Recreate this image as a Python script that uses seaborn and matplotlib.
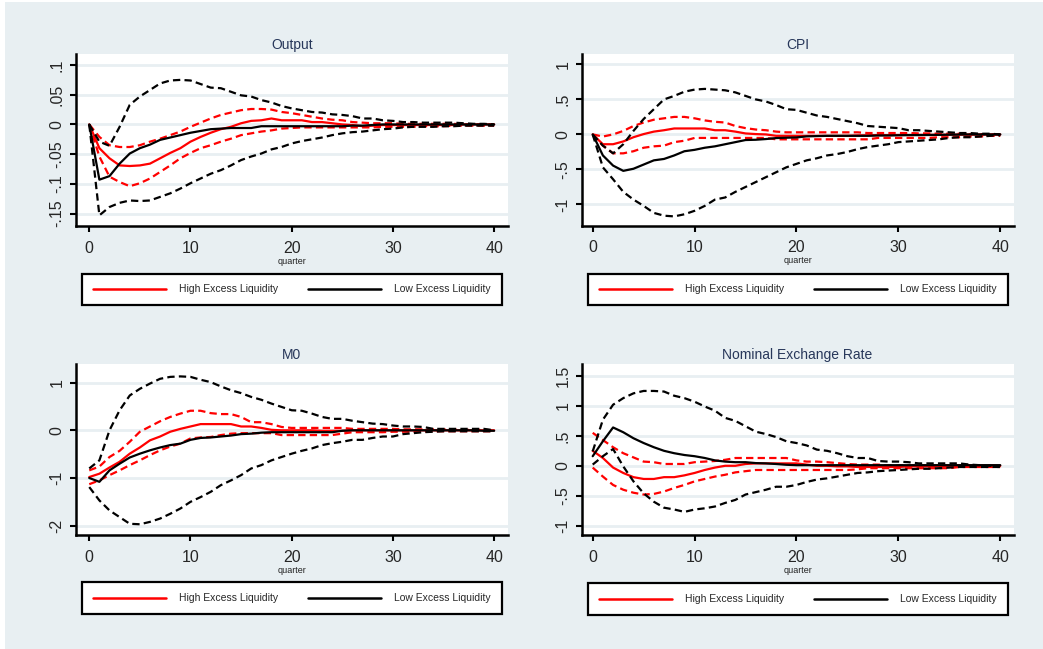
import numpy as np
import pandas as pd
import matplotlib
matplotlib.use("Agg")
import matplotlib.pyplot as plt
import seaborn as sns
from matplotlib.lines import Line2D
from matplotlib.patches import Rectangle

# ---------------- data ----------------
quarters = list(range(41))

# Output
o_high = [0, -0.040, -0.057, -0.069, -0.070, -0.069, -0.066, -0.057, -0.048, -0.040,
          -0.029, -0.021, -0.014, -0.008, -0.004, 0.002, 0.006, 0.007, 0.010, 0.007,
          0.007, 0.007, 0.004, 0.004, 0.002, 0.000, -0.001, -0.003, -0.002, -0.001,
          -0.001, -0.001, -0.001, -0.001, -0.001, -0.001, -0.001, 0.000, 0.000, 0.000, 0.000]
o_high_up = [0, -0.021, -0.035, -0.038, -0.038, -0.035, -0.029, -0.024, -0.018, -0.012,
             -0.004, 0.003, 0.010, 0.016, 0.020, 0.024, 0.026, 0.026, 0.025, 0.021,
             0.019, 0.016, 0.013, 0.010, 0.008, 0.007, 0.004, 0.003, 0.002, 0.002,
             0.002, 0.001, 0.001, 0.001, 0.001, 0.001, 0.001, 0.000, 0.000, 0.000, 0.000]
o_high_lo = [0, -0.054, -0.088, -0.097, -0.104, -0.099, -0.091, -0.080, -0.069, -0.057,
             -0.048, -0.040, -0.035, -0.029, -0.024, -0.018, -0.015, -0.012, -0.010, -0.007,
             -0.006, -0.005, -0.005, -0.005, -0.005, -0.005, -0.005, -0.005, -0.005, -0.004,
             -0.004, -0.004, -0.004, -0.003, -0.003, -0.003, -0.002, -0.002, -0.002, -0.002, -0.002]
o_low = [0, -0.093, -0.087, -0.066, -0.049, -0.040, -0.034, -0.026, -0.022, -0.018,
         -0.014, -0.011, -0.008, -0.007, -0.006, -0.006, -0.006, -0.003, -0.003, -0.003,
         -0.003, -0.003, -0.003, -0.003, -0.003, -0.003, -0.002, -0.002, -0.001, 0.000,
         0.000, 0.000, 0.000, 0.000, 0.000, 0.000, 0.000, 0.000, 0.000, 0.000, 0.000]
o_low_up = [0, -0.029, -0.036, -0.004, 0.033, 0.047, 0.058, 0.069, 0.074, 0.075,
            0.074, 0.068, 0.062, 0.061, 0.055, 0.049, 0.047, 0.041, 0.037, 0.031,
            0.027, 0.024, 0.021, 0.020, 0.017, 0.016, 0.014, 0.010, 0.010, 0.007,
            0.006, 0.004, 0.004, 0.003, 0.003, 0.003, 0.003, 0.002, 0.001, 0.001, 0.000]
o_low_lo = [0, -0.153, -0.139, -0.132, -0.128, -0.129, -0.128, -0.122, -0.116, -0.108,
            -0.099, -0.091, -0.083, -0.077, -0.069, -0.060, -0.054, -0.049, -0.042, -0.038,
            -0.032, -0.028, -0.025, -0.022, -0.018, -0.015, -0.013, -0.012, -0.010, -0.008,
            -0.007, -0.005, -0.004, -0.004, -0.004, -0.003, -0.003, -0.002, -0.002, -0.002, -0.002]

# CPI
c_high = [0, -0.14, -0.14, -0.10, -0.04, 0.005, 0.04, 0.06, 0.085, 0.085,
          0.085, 0.085, 0.06, 0.06, 0.04, 0.014, 0.005, 0.0, -0.02, -0.02,
          -0.02, -0.02, -0.02, -0.02, -0.02, -0.02, -0.014, -0.012, -0.01, -0.01,
          -0.008, -0.008, -0.006, -0.006, -0.005, -0.004, -0.003, -0.002, -0.001, 0.0, 0.0]
c_high_up = [0, -0.03, 0.0, 0.05, 0.12, 0.17, 0.21, 0.23, 0.25, 0.25,
             0.23, 0.20, 0.18, 0.17, 0.12, 0.09, 0.07, 0.06, 0.04, 0.03,
             0.03, 0.03, 0.03, 0.03, 0.03, 0.03, 0.03, 0.02, 0.02, 0.02,
             0.02, 0.02, 0.015, 0.015, 0.01, 0.01, 0.01, 0.005, 0.005, 0.0, 0.0]
c_high_lo = [0, -0.16, -0.27, -0.27, -0.24, -0.19, -0.17, -0.16, -0.11, -0.09,
             -0.05, -0.05, -0.05, -0.05, -0.05, -0.05, -0.05, -0.05, -0.07, -0.07,
             -0.07, -0.07, -0.07, -0.07, -0.07, -0.07, -0.07, -0.07, -0.05, -0.05,
             -0.05, -0.05, -0.05, -0.05, -0.04, -0.04, -0.04, -0.03, -0.03, -0.02, -0.02]
c_low = [0, -0.30, -0.445, -0.52, -0.49, -0.43, -0.37, -0.35, -0.30, -0.24,
         -0.22, -0.19, -0.17, -0.14, -0.11, -0.08, -0.076, -0.066, -0.052, -0.047,
         -0.043, -0.028, -0.024, -0.02, -0.02, -0.02, -0.02, -0.02, -0.015, -0.015,
         -0.012, -0.01, -0.01, -0.008, -0.006, -0.004, -0.002, 0.0, 0.0, 0.0, 0.0]
c_low_up = [0, -0.16, -0.27, -0.14, 0.05, 0.22, 0.36, 0.50, 0.55, 0.61,
            0.64, 0.65, 0.64, 0.63, 0.60, 0.55, 0.50, 0.47, 0.42, 0.36,
            0.35, 0.31, 0.27, 0.25, 0.22, 0.19, 0.16, 0.12, 0.11, 0.10,
            0.09, 0.06, 0.06, 0.05, 0.04, 0.03, 0.02, 0.02, 0.01, 0.01, 0.0]
c_low_lo = [0, -0.47, -0.64, -0.82, -0.93, -1.02, -1.12, -1.16, -1.17, -1.14,
            -1.09, -1.02, -0.93, -0.90, -0.82, -0.75, -0.68, -0.61, -0.54, -0.47,
            -0.42, -0.37, -0.34, -0.30, -0.28, -0.25, -0.21, -0.18, -0.16, -0.14,
            -0.11, -0.10, -0.09, -0.08, -0.07, -0.05, -0.04, -0.04, -0.03, -0.02, -0.01]

# M0
m_high = [-0.98, -0.91, -0.78, -0.66, -0.49, -0.36, -0.21, -0.13, -0.03, 0.03,
          0.08, 0.13, 0.13, 0.13, 0.13, 0.08, 0.08, 0.05, 0.01, 0.0,
          0.0, 0.0, 0.0, -0.01, -0.01, -0.01, 0.0, 0.0, 0.0, 0.0,
          0.0, 0.0, 0.0, 0.0, 0.0, 0.0, 0.0, 0.0, 0.0, 0.0, 0.0]
m_high_up = [-0.84, -0.76, -0.56, -0.43, -0.24, -0.03, 0.08, 0.19, 0.28, 0.35,
             0.41, 0.41, 0.36, 0.34, 0.34, 0.28, 0.17, 0.17, 0.13, 0.07,
             0.05, 0.05, 0.05, 0.05, 0.05, 0.05, 0.03, 0.03, 0.03, 0.03,
             0.03, 0.02, 0.02, 0.02, 0.02, 0.02, 0.01, 0.01, 0.01, 0.01, 0.0]
m_high_lo = [-1.13, -1.05, -0.94, -0.84, -0.73, -0.63, -0.52, -0.42, -0.34, -0.28,
             -0.17, -0.15, -0.14, -0.10, -0.07, -0.06, -0.06, -0.06, -0.06, -0.10,
             -0.10, -0.10, -0.10, -0.10, -0.10, -0.07, -0.04, -0.04, -0.04, -0.04,
             -0.03, -0.03, -0.03, -0.03, -0.02, -0.02, -0.02, -0.02, -0.02, -0.02, -0.02]
m_low = [-1.0, -1.08, -0.84, -0.70, -0.57, -0.49, -0.42, -0.36, -0.31, -0.28,
         -0.20, -0.16, -0.15, -0.13, -0.11, -0.08, -0.07, -0.05, -0.04, -0.04,
         -0.04, -0.04, -0.04, -0.04, -0.04, -0.01, 0.0, 0.0, 0.0, 0.0,
         0.0, 0.0, 0.0, 0.0, 0.0, 0.0, 0.0, 0.0, 0.0, -0.01, -0.01]
m_low_up = [-0.80, -0.63, 0.0, 0.42, 0.73, 0.87, 0.98, 1.08, 1.12, 1.13,
            1.12, 1.06, 1.01, 0.92, 0.84, 0.78, 0.70, 0.64, 0.56, 0.49,
            0.42, 0.41, 0.35, 0.28, 0.24, 0.24, 0.20, 0.17, 0.14, 0.13,
            0.10, 0.08, 0.08, 0.07, 0.03, 0.03, 0.03, 0.03, 0.03, 0.03, 0.0]
m_low_lo = [-1.19, -1.47, -1.68, -1.82, -1.96, -1.97, -1.92, -1.85, -1.75, -1.64,
            -1.50, -1.40, -1.29, -1.15, -1.05, -0.94, -0.80, -0.73, -0.63, -0.56,
            -0.49, -0.43, -0.38, -0.31, -0.27, -0.24, -0.20, -0.20, -0.16, -0.13,
            -0.13, -0.08, -0.06, -0.04, -0.03, -0.02, -0.02, -0.02, -0.02, -0.02, -0.02]

# Nominal Exchange Rate
n_high = [0.25, 0.13, -0.03, -0.12, -0.19, -0.22, -0.22, -0.19, -0.19, -0.16,
          -0.12, -0.07, -0.03, 0.0, 0.0, 0.03, 0.04, 0.04, 0.04, 0.04,
          0.04, 0.02, 0.0, 0.0, -0.01, -0.01, -0.02, -0.02, -0.02, -0.02,
          -0.02, -0.01, -0.01, -0.01, -0.01, 0.0, 0.0, 0.0, 0.0, 0.0, 0.0]
n_high_up = [0.55, 0.43, 0.31, 0.21, 0.14, 0.07, 0.06, 0.03, 0.03, 0.03,
             0.06, 0.07, 0.08, 0.10, 0.13, 0.13, 0.13, 0.13, 0.13, 0.13,
             0.09, 0.07, 0.07, 0.06, 0.045, 0.03, 0.02, 0.02, 0.02, 0.005,
             0.005, 0.005, 0.005, 0.005, 0.005, 0.005, 0.005, 0.005, 0.005, 0.005, 0.005]
n_high_lo = [-0.03, -0.18, -0.32, -0.40, -0.45, -0.48, -0.47, -0.43, -0.37, -0.32,
             -0.26, -0.22, -0.18, -0.15, -0.11, -0.09, -0.07, -0.07, -0.07, -0.07,
             -0.07, -0.07, -0.07, -0.07, -0.07, -0.07, -0.06, -0.04, -0.04, -0.04,
             -0.04, -0.04, -0.04, -0.04, -0.04, -0.04, -0.02, -0.02, -0.02, -0.02, -0.02]
n_low = [0.16, 0.41, 0.64, 0.56, 0.46, 0.38, 0.31, 0.25, 0.21, 0.18,
         0.16, 0.13, 0.09, 0.07, 0.06, 0.06, 0.045, 0.04, 0.03, 0.017,
         0.01, 0.01, 0.01, 0.01, 0.01, 0.01, 0.01, 0.01, 0.01, 0.01,
         0.01, 0.01, 0.01, 0.01, 0.01, 0.01, 0.01, 0.01, 0.01, 0.01, 0.01]
n_low_up = [0.24, 0.77, 1.02, 1.13, 1.21, 1.25, 1.25, 1.24, 1.17, 1.13,
            1.07, 0.99, 0.92, 0.80, 0.75, 0.66, 0.57, 0.53, 0.48, 0.41,
            0.38, 0.34, 0.27, 0.25, 0.21, 0.16, 0.13, 0.13, 0.08, 0.07,
            0.07, 0.06, 0.04, 0.04, 0.04, 0.04, 0.04, 0.02, 0.01, 0.0, 0.0]
n_low_lo = [0.02, 0.16, 0.28, -0.01, -0.26, -0.46, -0.60, -0.70, -0.73, -0.77,
            -0.73, -0.71, -0.68, -0.62, -0.57, -0.48, -0.44, -0.40, -0.35, -0.35,
            -0.32, -0.27, -0.23, -0.21, -0.18, -0.15, -0.12, -0.11, -0.09, -0.08,
            -0.07, -0.06, -0.05, -0.05, -0.04, -0.03, -0.02, -0.02, -0.02, -0.02, -0.02]

panel_titles = ["Output", "CPI", "M0", "Nominal Exchange Rate"]
legend_labels = ["High Excess Liquidity", "Low Excess Liquidity"]
x_ticks = [0, 10, 20, 30, 40]
y_ticks = [[-0.15, -0.1, -0.05, 0, 0.05, 0.1], [-1, -0.5, 0, 0.5, 1],
           [-2, -1, 0, 1], [-1, -0.5, 0, 0.5, 1, 1.5]]
y_tick_labels = [["-.15", "-.1", "-.05", "0", ".05", ".1"], ["-1", "-.5", "0", ".5", "1"],
                 ["-2", "-1", "0", "1"], ["-1", "-.5", "0", ".5", "1", "1.5"]]

# ---------------- style ----------------
sns.set_style("white")
plt.rcParams["font.family"] = ["Liberation Sans", "DejaVu Sans"]

W, H = 1043, 649
BG = "#e8eff2"
RED, BLACK = "#ff0000", "#000000"
TITLE_C = "#27375a"

fig = plt.figure(figsize=(W / 100, H / 100), dpi=100)
fig.patch.set_facecolor("white")
fig.patches.append(Rectangle((5 / W, 0), 1, 1 - 2 / H, transform=fig.transFigure,
                             facecolor=BG, edgecolor="none", zorder=-10))


def fbox(l, t, r, b):
    return [l / W, 1 - b / H, (r - l) / W, (b - t) / H]


axes_px = [(75.7, 54, 508, 226), (581.7, 54, 1013.5, 225.5),
           (75.7, 364, 508, 535), (581.7, 364, 1013.5, 535)]
xlims = [(-1.34, 41.37), (-1.08, 41.3), (-1.34, 41.37), (-1.08, 41.3)]
ylims = [(-0.171, 0.1186), (-1.30, 1.148), (-2.195, 1.39), (-1.156, 1.70)]
legend_px = [(81.7, 272.3, 502, 306.7), (587.7, 272.3, 1008, 306.7),
             (81.7, 581, 502, 615.5), (587.7, 582, 1008, 616.7)]

series = [
    (o_high, o_high_up, o_high_lo, o_low, o_low_up, o_low_lo),
    (c_high, c_high_up, c_high_lo, c_low, c_low_up, c_low_lo),
    (m_high, m_high_up, m_high_lo, m_low, m_low_up, m_low_lo),
    (n_high, n_high_up, n_high_lo, n_low, n_low_up, n_low_lo),
]


def long_frame(hi, hi_up, hi_lo, lo, lo_up, lo_lo):
    parts = []
    for grp, band, vals in [("High", "Median", hi), ("High", "Upper", hi_up), ("High", "Lower", hi_lo),
                            ("Low", "Median", lo), ("Low", "Upper", lo_up), ("Low", "Lower", lo_lo)]:
        parts.append(pd.DataFrame({"quarter": quarters, "value": vals,
                                   "group": grp, "band": band}))
    return pd.concat(parts, ignore_index=True)


dash = (3.3, 1.9)
for i in range(4):
    ax = fig.add_axes(fbox(*axes_px[i]))
    ax.set_facecolor("white")
    df = long_frame(*series[i])
    sns.lineplot(data=df, x="quarter", y="value", hue="group", style="band",
                 hue_order=["High", "Low"], style_order=["Median", "Upper", "Lower"],
                 palette={"High": RED, "Low": BLACK},
                 dashes={"Median": "", "Upper": dash, "Lower": dash},
                 estimator=None, errorbar=None, sort=False, legend=False,
                 linewidth=1.6, ax=ax)
    ax.set_xlim(*xlims[i])
    ax.set_ylim(*ylims[i])
    ax.set_xticks(x_ticks)
    ax.set_xticklabels([str(t) for t in x_ticks], fontsize=11.5)
    ax.set_yticks(y_ticks[i])
    ax.set_yticklabels(y_tick_labels[i], rotation=90, va="center", fontsize=11.5)
    ax.grid(False)
    for yv in y_ticks[i]:
        ax.axhline(yv, color=BG, lw=2.0, zorder=0.5)
    for s in ["top", "right"]:
        ax.spines[s].set_visible(False)
    for s in ["left", "bottom"]:
        ax.spines[s].set_visible(True)
        ax.spines[s].set_color("black")
        ax.spines[s].set_linewidth(1.8)
    ax.tick_params(axis="both", which="major", direction="out", length=4.5, width=1.5,
                   color="black", left=True, bottom=True)
    ax.tick_params(axis="x", pad=6)
    ax.tick_params(axis="y", pad=3.5)
    ax.set_xlabel("quarter", fontsize=6.5, color="#222222", labelpad=1)
    ax.set_ylabel("")
    ax.set_title(panel_titles[i], fontsize=10, color=TITLE_C, pad=3.5)

    l, t, r, b = legend_px[i]
    handles = [Line2D([], [], color=RED, lw=1.8), Line2D([], [], color=BLACK, lw=1.8)]
    leg = fig.legend(handles, legend_labels, loc="center", ncol=2, mode="expand",
                     bbox_to_anchor=(l / W, 1 - b / H, (r - l) / W, (b - t) / H),
                     borderaxespad=0, fontsize=7.5, handlelength=7.0, handletextpad=1.3,
                     borderpad=1.05, frameon=True, fancybox=False)
    fr = leg.get_frame()
    fr.set_edgecolor("black")
    fr.set_linewidth(1.6)
    fr.set_facecolor("white")
    fr.set_alpha(1)

fig.savefig("out.png", dpi=100, facecolor=fig.get_facecolor())
